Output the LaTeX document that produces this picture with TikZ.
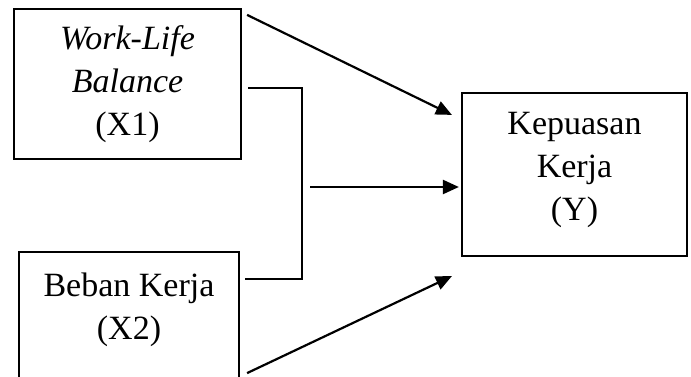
\documentclass[tikz,border=0pt]{standalone}
\usepackage{fontspec}
\setmainfont{Liberation Serif}
\usetikzlibrary{arrows.meta}
\begin{document}
\begin{tikzpicture}[x=1pt,y=-1pt,
  box/.style={draw,line width=2.2pt,inner sep=0pt,align=center,
    font=\fontsize{34}{43}\selectfont},
  arr/.style={line width=2.2pt,-{Triangle[length=16pt,width=14pt]}},
  thin/.style={line width=1.1pt}]
\useasboundingbox (0,0) rectangle (691,377);
\node[box,minimum width=227pt,minimum height=150pt] (x1) at (127.5,84)
  {\textit{Work-Life}\\\textit{Balance}\\(X1)};
\node[box,minimum width=220pt,minimum height=126pt] (x2) at (129,315)
  {Beban Kerja\\(X2)\rule[-18pt]{0pt}{0pt}};
\node[box,minimum width=225pt,minimum height=163pt] (y) at (574.5,174.5)
  {Kepuasan\\Kerja\\(Y)\rule[-17pt]{0pt}{0pt}};
\coordinate (j) at (302,187);
\coordinate (m) at (310,187);
\draw[arr] ([shift={(5,7)}]x1.north east) -- ([shift={(-9,23)}]y.north west);
\draw[arr] ([shift={(7,-6)}]x2.south east) -- ([shift={(-9,19)}]y.south west);
\draw[thin] ([shift={(6,4)}]x1.east) -| (j) |- ([shift={(5,-36)}]x2.east);
\draw[arr,shorten >=2pt] (m) -- (m -| y.west);
\end{tikzpicture}
\end{document}
